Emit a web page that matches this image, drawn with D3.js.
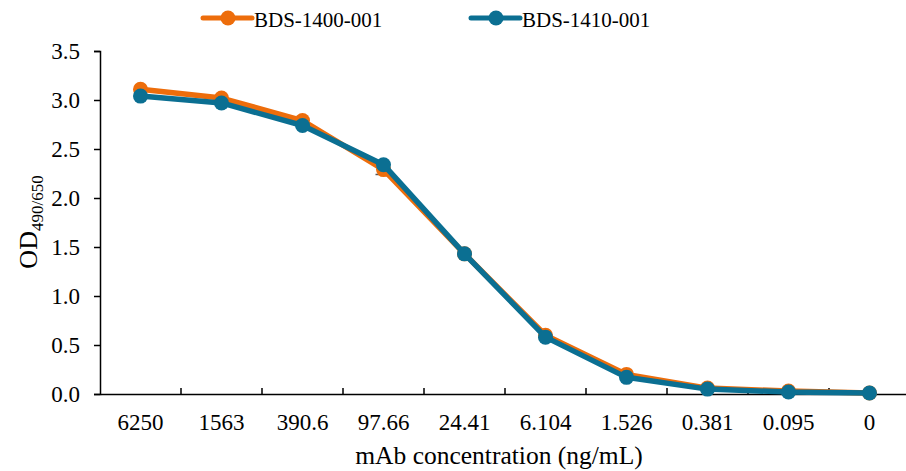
<!DOCTYPE html>
<html>
<head>
<meta charset="utf-8">
<script src="https://cdn.jsdelivr.net/npm/d3@7"></script>
<style>
  body { margin: 0; background: #fff; }
</style>
</head>
<body>
<div id="chart"></div>
<script>
// data
var concentrations = ["6250", "1563", "390.6", "97.66", "24.41", "6.104", "1.526", "0.381", "0.095", "0"];
var seriesNames = ["BDS-1400-001", "BDS-1410-001"];
var bds1400 = [3.11, 3.02, 2.79, 2.29, 1.43, 0.60, 0.20, 0.06, 0.03, 0.01];
var bds1400Err = [0, 0, 0, 0.05, 0, 0, 0, 0, 0, 0];
var bds1410 = [3.04, 2.97, 2.74, 2.34, 1.43, 0.58, 0.17, 0.05, 0.02, 0.01];
var yTicks = [0, 0.5, 1.0, 1.5, 2.0, 2.5, 3.0, 3.5];
var colors = ["#ED6D0B", "#0B6F92"];

var serif = "'Times New Roman', 'Liberation Serif', serif";
var width = 906, height = 471;
var margin = {top: 51, right: -4, bottom: 77, left: 100};

var svg = d3.select("#chart").append("svg")
    .attr("width", width)
    .attr("height", height)
    .style("font-family", serif);

var x = d3.scaleBand().domain(concentrations)
    .range([margin.left, width - margin.right]);
var y = d3.scaleLinear().domain([0, 3.5])
    .range([height - margin.bottom, margin.top]);

// y axis
var yAxis = d3.axisLeft(y).tickValues(yTicks)
    .tickFormat(d3.format(".1f")).tickSize(6).tickPadding(14);
var gy = svg.append("g")
    .attr("transform", "translate(" + margin.left + ",0)")
    .call(yAxis)
    .attr("font-family", serif);
gy.select(".domain").attr("stroke", "#000").attr("stroke-width", 1.5);
gy.selectAll(".tick line").attr("stroke", "#000").attr("stroke-width", 1.5);
gy.selectAll(".tick text").attr("font-family", serif).style("font-size", "23px").attr("fill", "#000");

// x axis, ticks between categories pointing up
var gx = svg.append("g")
    .attr("transform", "translate(0," + y(0) + ")")
    .call(d3.axisBottom(x).tickSize(0).tickPadding(20))
    .attr("font-family", serif);
gx.select(".domain").attr("stroke", "#000").attr("stroke-width", 1.5);
gx.selectAll(".tick text").attr("font-family", serif).style("font-size", "23px").attr("fill", "#000");
gx.selectAll(".sep")
    .data(concentrations.slice(1))
    .enter().append("line")
    .attr("class", "sep")
    .attr("x1", function(d) { return x(d); })
    .attr("x2", function(d) { return x(d); })
    .attr("y1", 0).attr("y2", -6)
    .attr("stroke", "#000").attr("stroke-width", 1.5);

// axis titles
svg.append("text")
    .attr("x", 499).attr("y", 464)
    .attr("text-anchor", "middle")
    .attr("font-family", serif)
    .style("font-size", "25.5px")
    .text("mAb concentration (ng/mL)");

var yt = svg.append("text")
    .attr("transform", "translate(37," + 222 + ") rotate(-90)")
    .attr("text-anchor", "middle")
    .attr("font-family", serif)
    .style("font-size", "26px");
yt.append("tspan").text("OD");
yt.append("tspan").attr("dy", 6).style("font-size", "17px").text("490/650");

var line = d3.line()
    .x(function(d, i) { return x(concentrations[i]) + x.bandwidth() / 2; })
    .y(function(d) { return y(d); });

var allSeries = [bds1400, bds1410];

// error bar
bds1400Err.forEach(function(e, i) {
    if (e <= 0) return;
    var cx = x(concentrations[i]) + x.bandwidth() / 2;
    svg.append("line")
        .attr("x1", cx).attr("x2", cx)
        .attr("y1", y(bds1400[i])).attr("y2", y(bds1400[i] - e))
        .attr("stroke", "#555").attr("stroke-width", 1.5);
    svg.append("line")
        .attr("x1", cx - 8).attr("x2", cx + 2)
        .attr("y1", y(bds1400[i] - e)).attr("y2", y(bds1400[i] - e))
        .attr("stroke", "#555").attr("stroke-width", 1.5);
});

allSeries.forEach(function(s, k) {
    svg.append("path")
        .datum(s)
        .attr("fill", "none")
        .attr("stroke", colors[k])
        .attr("stroke-width", 5.5)
        .attr("stroke-linejoin", "round")
        .attr("d", line);
    svg.selectAll(".pt" + k)
        .data(s)
        .enter().append("circle")
        .attr("cx", function(d, i) { return x(concentrations[i]) + x.bandwidth() / 2; })
        .attr("cy", function(d) { return y(d); })
        .attr("r", 7.5)
        .attr("fill", colors[k]);
});

// legend
var legX = [203, 471];
seriesNames.forEach(function(name, k) {
    var g = svg.append("g").attr("transform", "translate(" + legX[k] + ",18)");
    g.append("line").attr("x1", 0).attr("x2", 49).attr("y1", 0).attr("y2", 0)
        .attr("stroke", colors[k]).attr("stroke-width", 5).attr("stroke-linecap", "round");
    g.append("circle").attr("cx", 25).attr("cy", 0).attr("r", 7.5).attr("fill", colors[k]);
    g.append("text").attr("x", 51).attr("y", 9)
        .attr("font-family", serif).style("font-size", "21px").text(name);
});
</script>
</body>
</html>
